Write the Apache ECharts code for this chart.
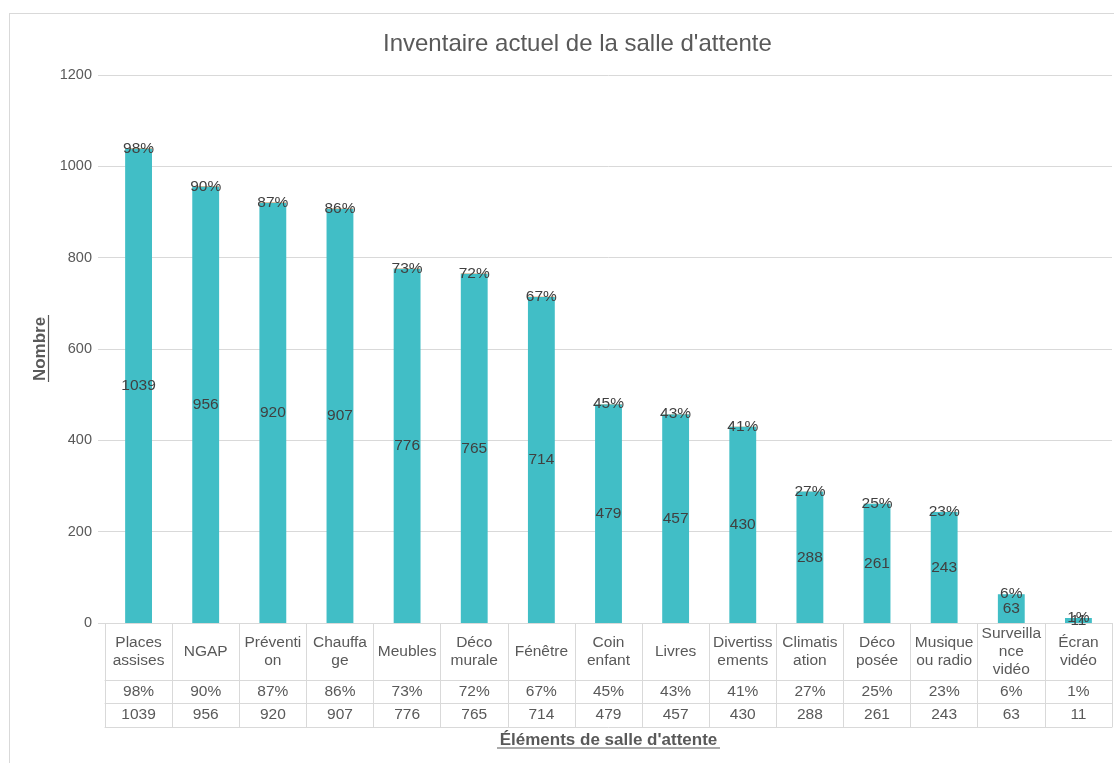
<!DOCTYPE html>
<html>
<head>
<meta charset="utf-8">
<script src="https://cdn.jsdelivr.net/npm/echarts@6/dist/echarts.min.js"></script>
<style>
  html, body { margin: 0; padding: 0; background: #fff; }
  #chart { width: 1114px; height: 763px; }
  #frame { position: absolute; left: 9px; top: 13px; width: 1200px; height: 800px;
           border: 1px solid #d9d9d9; pointer-events: none; }
</style>
</head>
<body>
<div id="chart"></div>
<div id="frame"></div>
<script>
// Waiting-room inventory: items, share of rooms (%) and count of rooms
const categories = [
  'Places\nassises', 'NGAP', 'Préventi\non', 'Chauffa\nge', 'Meubles',
  'Déco\nmurale', 'Fénêtre', 'Coin\nenfant', 'Livres', 'Divertiss\nements',
  'Climatis\nation', 'Déco\nposée', 'Musique\nou radio', 'Surveilla\nnce\nvidéo', 'Écran\nvidéo'
];
const percents = [98, 90, 87, 86, 73, 72, 67, 45, 43, 41, 27, 25, 23, 6, 1];
const counts = [1039, 956, 920, 907, 776, 765, 714, 479, 457, 430, 288, 261, 243, 63, 11];
const yTicks = { min: 0, max: 1200, interval: 200 };

const FONT = '"Liberation Sans", Arial, sans-serif';
const GREY = '#595959';
const LINE = '#d9d9d9';
const LABEL_SIZE = 15.5;

const chart = echarts.init(document.getElementById('chart'), null, { renderer: 'canvas' });

// table rows below the plot: label row, percent row, count row
const tableRow = (offset, labels, margin) => ({
  type: 'category',
  position: 'bottom',
  offset: offset,
  data: categories,
  axisLine: { show: true, lineStyle: { color: LINE, width: 1 } },
  axisTick: { show: false },
  axisLabel: {
    show: labels !== null,
    margin: margin,
    interval: 0,
    color: GREY,
    fontFamily: FONT,
    fontSize: LABEL_SIZE,
    verticalAlign: 'middle',
    formatter: (v, i) => labels ? String(labels[i]) : ''
  }
});

const option = {
  backgroundColor: '#fff',
  animation: false,
  textStyle: { fontFamily: FONT },
  title: {
    text: "Inventaire actuel de la salle d'attente",
    left: 378,
    top: 27,
    textStyle: { color: GREY, fontFamily: FONT, fontSize: 24, fontWeight: 'normal' }
  },
  grid: { left: 105, right: 2, top: 75, bottom: 140, containLabel: false },
  xAxis: [
    {
      type: 'category',
      data: categories,
      axisLine: { show: true, lineStyle: { color: LINE, width: 1 } },
      axisTick: { show: true, alignWithLabel: false, inside: false, length: 104,
                  lineStyle: { color: LINE, width: 1 } },
      axisLabel: {
        interval: 0, margin: 29, color: GREY, fontFamily: FONT, fontSize: LABEL_SIZE,
        lineHeight: 18, verticalAlign: 'middle'
      }
    },
    tableRow(57, percents.map(p => p + '%'), 12),
    tableRow(80, counts, 12),
    Object.assign(tableRow(104, null, 0), {
      name: "Éléments de salle d'attente",
      nameLocation: 'middle',
      nameGap: 13,
      nameTextStyle: { color: GREY, fontFamily: FONT, fontSize: 17, fontWeight: 'bold',
                       verticalAlign: 'middle' }
    })
  ],
  yAxis: {
    type: 'value',
    min: yTicks.min,
    max: yTicks.max,
    interval: yTicks.interval,
    name: 'Nombre',
    nameLocation: 'middle',
    nameGap: 56,
    nameTextStyle: { color: GREY, fontFamily: FONT, fontSize: 17, fontWeight: 'bold' },
    axisLine: { show: false },
    axisTick: { show: true, length: 7, lineStyle: { color: LINE } },
    axisLabel: { color: GREY, fontFamily: FONT, fontSize: 14.5, margin: 13,
                 formatter: (v) => String(v) },
    splitLine: { show: true, lineStyle: { color: LINE, width: 1 } }
  },
  series: [
    {
      name: 'Nombre',
      type: 'bar',
      stack: 'total',
      barWidth: '40%',
      data: counts,
      itemStyle: { color: '#41BEC6' },
      label: {
        show: true, position: 'inside', color: '#404040',
        fontFamily: FONT, fontSize: LABEL_SIZE
      }
    },
    {
      name: 'Pourcentage',
      type: 'bar',
      stack: 'total',
      barWidth: '40%',
      data: percents.map(p => p / 100),
      itemStyle: { color: '#ED7D31' },
      label: {
        show: true, position: 'inside', color: '#404040',
        fontFamily: FONT, fontSize: LABEL_SIZE,
        formatter: (p) => percents[p.dataIndex] + '%'
      }
    }
  ],
  graphic: [
    // underlines of the two axis titles
    { type: 'line', shape: { x1: 497, y1: 748, x2: 720, y2: 748 },
      style: { stroke: GREY, lineWidth: 1.2 } },
    { type: 'line', shape: { x1: 48.5, y1: 315, x2: 48.5, y2: 382 },
      style: { stroke: GREY, lineWidth: 1.2 } }
  ]
};

chart.setOption(option);
</script>
</body>
</html>
